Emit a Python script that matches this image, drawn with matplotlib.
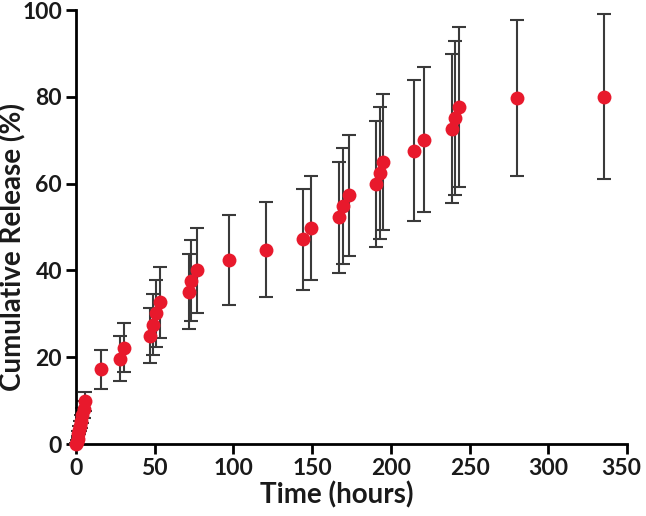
import numpy as np
import matplotlib
matplotlib.use('Agg')
import matplotlib.pyplot as plt
from matplotlib.transforms import ScaledTranslation

# time points (hours) and cumulative release (%) with error (SD)
time_h = [0, 0.5, 1, 1.5, 2, 2.5, 3, 4, 5, 6,
          16, 28, 30.5, 47, 49, 51, 53.5, 72, 73, 77,
          97.5, 120.5, 144.5, 149, 167, 169.5, 173.5, 190.5, 193, 195,
          215, 221, 239, 241, 243, 280, 335.5]
release = [0, 0.5, 1.2, 2.2, 3.2, 4.2, 5.2, 6.6, 8, 9.8,
           17.2, 19.7, 22.2, 25.0, 27.5, 30.1, 32.7, 35.1, 37.6, 40.0,
           42.4, 44.8, 47.2, 49.8, 52.2, 54.8, 57.3, 59.9, 62.4, 65.0,
           67.6, 70.1, 72.7, 75.1, 77.6, 79.7, 80.0]
err = [0.2, 0.4, 0.6, 0.8, 1.0, 1.2, 1.4, 1.7, 2.0, 2.3,
       4.5, 5.2, 5.7, 6.3, 7.0, 7.7, 8.2, 8.7, 9.3, 9.8,
       10.4, 10.9, 11.6, 12.0, 12.7, 13.3, 14.0, 14.5, 15.2, 15.7,
       16.3, 16.7, 17.2, 17.8, 18.4, 17.9, 19.0]

plt.rcParams['font.family'] = ['Lato', 'DejaVu Sans']

fig = plt.figure(figsize=(6.46, 5.16), dpi=100)
ax = fig.add_axes([0.1176, 0.1395, 0.853, 0.841])

eb = ax.errorbar(time_h, release, yerr=err, fmt='none', ecolor='#3a3a3a',
                 elinewidth=1.5, capsize=5, capthick=1.5, zorder=2)
for c in eb.get_children():
    c.set_clip_on(False)
ax.plot(time_h, release, 'o', color='#e8192c', markersize=10,
        markeredgewidth=0, zorder=3, clip_on=False)

ax.set_xlim(0, 350)
ax.set_ylim(0, 100)
ax.set_xticks(np.arange(0, 351, 50))
ax.set_yticks(np.arange(0, 101, 20))

for s in ['top', 'right']:
    ax.spines[s].set_visible(False)
for s in ['left', 'bottom']:
    ax.spines[s].set_linewidth(2)
    ax.spines[s].set_color('black')

ax.tick_params(direction='out', length=7, width=2, labelsize=16.5, pad=3)
for lab in ax.get_xticklabels() + ax.get_yticklabels():
    lab.set_fontweight('bold')
    lab.set_color('#1a1a1a')
# nudge the last x label a little left so it stays inside
last = ax.get_xticklabels()[-1]
last.set_transform(last.get_transform() + ScaledTranslation(-4 / 72, 0, fig.dpi_scale_trans))

ax.set_xlabel('Time (hours)', fontsize=20, fontweight='bold', color='#1a1a1a')
ax.xaxis.label.set_va('center')
ax.xaxis.set_label_coords(0.474, -0.1175)
ax.set_ylabel('Cumulative Release (%)', fontsize=20, fontweight='bold', color='#1a1a1a')
ax.yaxis.label.set_va('center')
ax.yaxis.set_label_coords(-0.115, 0.455)

fig.savefig('out.png', dpi=100)
